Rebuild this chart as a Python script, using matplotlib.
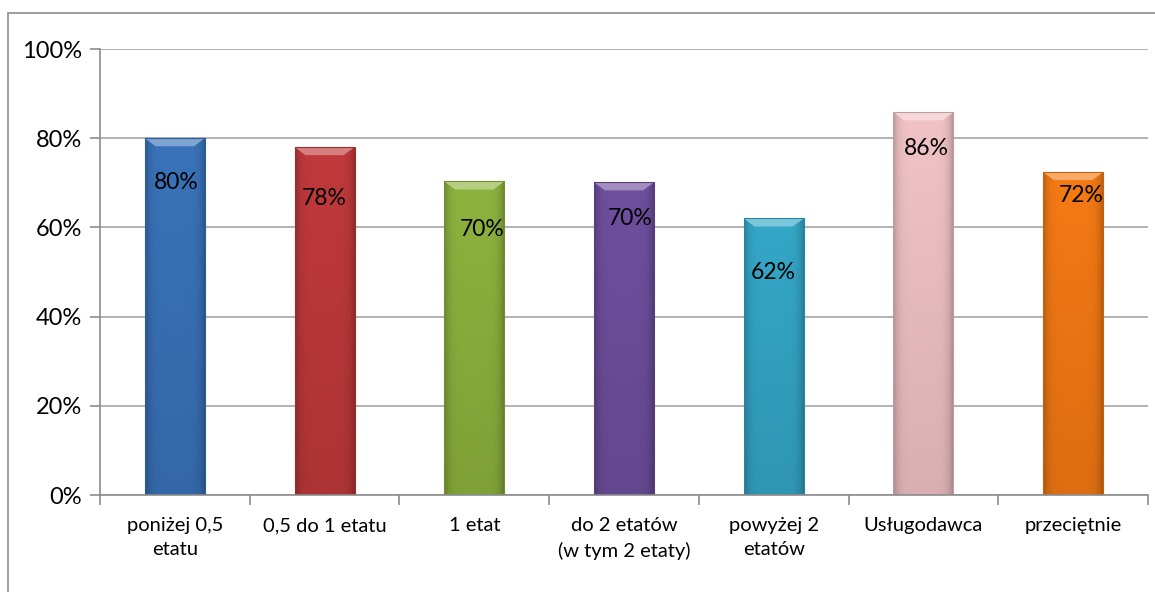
import numpy as np
import matplotlib.pyplot as plt
from matplotlib.patches import Rectangle, Polygon
from matplotlib.ticker import PercentFormatter, FixedLocator
from matplotlib.colors import to_rgb

plt.rcParams["font.family"] = ["Lato", "DejaVu Sans"]

categories = ["poniżej 0,5\netatu", "0,5 do 1 etatu", "1 etat",
              "do 2 etatów\n(w tym 2 etaty)", "powyżej 2\netatów",
              "Usługodawca", "przeciętnie"]
values = [0.80, 0.78, 0.703, 0.701, 0.62, 0.858, 0.724]
value_labels = ["80%", "78%", "70%", "70%", "62%", "86%", "72%"]
colors = ["#3A73BA", "#C0393B", "#8DB33E", "#6F4F9E", "#34A7C7", "#F1C3C6", "#F57A14"]

# where each data label sits relative to the bar top (pixels)
label_dx = [1, 0, 8, 6, 0, 3, 8]
label_dy = [-44, -51, -48, -36, -54, -36, -23]

W, H = 1155, 592
fig = plt.figure(figsize=(W / 100, H / 100), dpi=100)
fig.patches.append(Rectangle((8 / W, -0.1), 1.2, (H - 13) / H + 0.1,
                             transform=fig.transFigure, fill=False,
                             edgecolor="#8C8C8C", linewidth=1.2))
ax = fig.add_axes([100 / W, (H - 495) / H, 1048 / W, 446 / H])

x = np.arange(len(categories))
bars = ax.bar(x, values, width=0.40, color=colors, zorder=2)

# shaded fill: darker at the sides and towards the bottom, light bevel on top
for b, c in zip(bars, colors):
    base = np.array(to_rgb(c))
    xx = np.linspace(-1, 1, 60)
    yy = np.linspace(0, 1, 100)[:, None]
    side = 1 - 0.22 * np.abs(xx) ** 6
    vert = 0.9 + 0.1 * yy
    shade = side[None, :] * vert
    img = np.clip(base[None, None, :] * shade[:, :, None], 0, 1)
    x0, y0, bw, bh = b.get_x(), b.get_y(), b.get_width(), b.get_height()
    im = ax.imshow(img, extent=[x0, x0 + bw, y0, y0 + bh], origin="lower",
                   aspect="auto", zorder=2.1, interpolation="bilinear")
    im.set_clip_path(b)
    light = np.clip(base + (1 - base) * 0.35, 0, 1)
    bev_x = bw * 0.18
    bev_y = 0.018
    top = y0 + bh
    ax.add_patch(Polygon([[x0, top], [x0 + bw, top], [x0 + bw - bev_x, top - bev_y],
                          [x0 + bev_x, top - bev_y]], closed=True,
                         facecolor=light, edgecolor="none", zorder=2.2))
    b.set_edgecolor(np.clip(base * 0.8, 0, 1))
    b.set_linewidth(0.8)
    b.set_facecolor("none")
    b.set_zorder(2.3)

for xi, v, lab, dx, dy in zip(x, values, value_labels, label_dx, label_dy):
    ax.annotate(lab, (xi, v), xytext=(dx, dy), textcoords="offset pixels",
                ha="center", va="center", fontsize=16.5, color="black", zorder=3)

ax.set_xlim(-0.5, len(categories) - 0.5)
ax.set_ylim(0, 1)
ax.yaxis.set_major_locator(FixedLocator([0, 0.2, 0.4, 0.6, 0.8, 1.0]))
ax.yaxis.set_major_formatter(PercentFormatter(1.0, decimals=0))
ax.grid(axis="y", color="#A6A6A6", linewidth=1.2, zorder=0)
ax.set_axisbelow(True)

ax.set_xticks(np.arange(len(categories) + 1) - 0.5)
ax.set_xticklabels([])
ax.set_xticks(x, minor=True)
ax.set_xticklabels(categories, minor=True, fontsize=14.5, linespacing=1.5)
ax.tick_params(axis="x", which="minor", length=0, pad=16)
ax.tick_params(axis="x", which="major", length=7, color="#8C8C8C", width=1.2)
ax.tick_params(axis="y", length=7, color="#8C8C8C", width=1.2, labelsize=17, pad=6)

for s in ["top", "right"]:
    ax.spines[s].set_visible(False)
for s in ["left", "bottom"]:
    ax.spines[s].set_color("#8C8C8C")
    ax.spines[s].set_linewidth(1.2)

fig.savefig("out.png", dpi=100)
